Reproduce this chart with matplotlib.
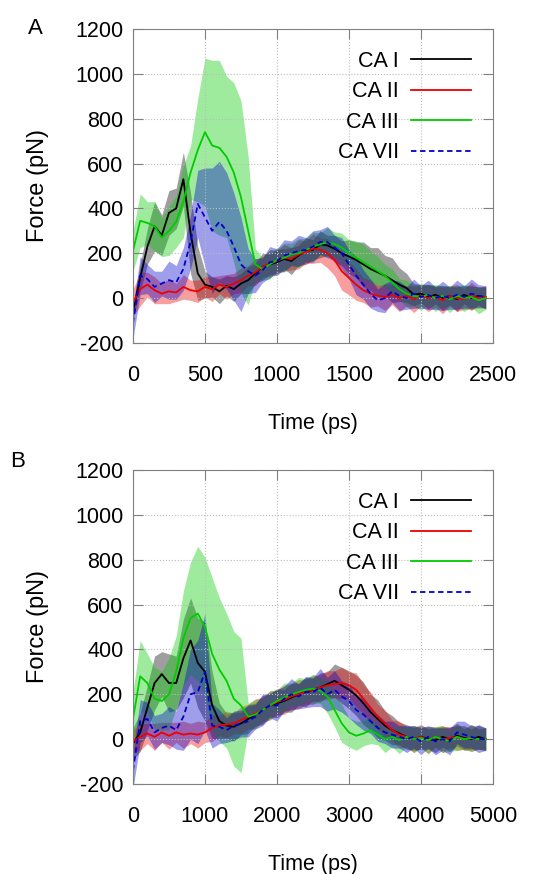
import numpy as np
import matplotlib
matplotlib.use("Agg")
import matplotlib.pyplot as plt

plt.rcParams["font.family"] = ["Liberation Sans", "DejaVu Sans"]
plt.rcParams["axes.unicode_minus"] = False

# ---------------- DATA ----------------
LABELS = ["CA I", "CA II", "CA III", "CA VII"]

# panel A: pulling run, 0-2450 ps
A_TIME = np.arange(0, 2500, 50)
A_CA1 = [-60, 90, 230, 320, 280, 380, 400, 530, 290, 110, 60, 50, 30, 55, 40, 65, 80, 110, 140, 150,
         160, 175, 165, 190, 210, 215, 240, 235, 220, 200, 185, 170, 150, 130, 115, 100, 80, 60, 45, 15,
         20, 5, 15, 0, 10, -5, 15, 0, 10, 0]
A_CA1_SD = [30, 60, 80, 110, 90, 100, 90, 120, 180, 120, 60, 45, 55, 45, 55, 45, 60, 45, 60, 45,
            60, 45, 60, 45, 60, 45, 60, 45, 60, 55, 75, 80, 100, 95, 110, 90, 100, 75, 65, 50,
            40, 55, 40, 55, 40, 55, 40, 55, 40, 50]
A_CA2 = [-20, 40, 60, 35, 20, 30, 25, 50, 35, 30, 50, 40, 60, 50, 65, 80, 100, 115, 140, 155,
         165, 180, 175, 195, 205, 220, 215, 200, 170, 120, 90, 60, 35, 20, 10, 5, 15, 0, 10, -5,
         10, 0, 5, -10, 10, 0, -5, 10, 0, 5]
A_CA2_SD = [60, 75, 55, 60, 45, 55, 40, 55, 45, 50, 45, 55, 40, 55, 45, 55, 45, 60, 45, 60,
            45, 60, 50, 65, 50, 65, 55, 65, 70, 85, 75, 70, 55, 60, 45, 60, 45, 60, 45, 60,
            45, 60, 45, 60, 45, 60, 45, 60, 45, 50]
A_CA3 = [210, 345, 335, 320, 270, 300, 340, 430, 560, 660, 740, 680, 670, 630, 560, 450, 300, 150, 130, 150,
         170, 180, 195, 200, 215, 230, 240, 250, 240, 225, 200, 180, 160, 140, 120, 100, 70, 40, 20, 10,
         5, 15, 0, 10, -5, 10, 0, 5, -10, 0]
A_CA3_SD = [90, 120, 95, 110, 85, 110, 115, 160, 120, 230, 330, 380, 390, 360, 400, 430, 330, 70, 50, 65,
            50, 65, 50, 65, 50, 65, 50, 65, 55, 65, 60, 75, 80, 70, 65, 50, 60, 45, 60, 45,
            60, 45, 60, 45, 60, 45, 60, 45, 60, 50]
A_CA7 = [-110, 100, 85, 50, 65, 80, 70, 130, 250, 420, 360, 300, 340, 300, 230, 150, 120, 100, 125, 160,
         165, 190, 200, 210, 215, 230, 250, 250, 225, 200, 150, 100, 60, 20, -10, 0, 30, 10, 0, 20,
         5, 15, 0, 10, 0, 15, 5, 20, 10, 5]
A_CA7_SD = [70, 85, 65, 70, 55, 85, 75, 95, 120, 150, 220, 280, 270, 260, 240, 210, 100, 75, 55, 70,
            55, 70, 55, 70, 55, 70, 55, 70, 55, 70, 65, 85, 65, 65, 50, 65, 50, 65, 50, 65,
            50, 65, 50, 65, 50, 65, 50, 65, 50, 50]

# panel B: slower pulling, 0-4900 ps
B_TIME = np.arange(0, 5000, 100)
B_CA1 = [-20, 30, 140, 250, 290, 250, 250, 360, 440, 340, 300, 150, 80, 60, 55, 70, 90, 110, 130, 150,
         160, 170, 185, 200, 210, 220, 230, 245, 260, 240, 220, 195, 160, 120, 90, 60, 40, 25, 10, 0,
         10, 0, -5, 10, 0, 15, 5, 0, 10, 0]
B_CA1_SD = [70, 85, 100, 120, 100, 130, 120, 175, 190, 200, 220, 150, 80, 55, 65, 50, 65, 50, 65, 50,
            65, 50, 65, 50, 65, 50, 65, 55, 75, 80, 85, 90, 95, 80, 85, 65, 65, 50, 55, 50,
            55, 45, 55, 45, 55, 45, 55, 45, 55, 50]
B_CA2 = [-10, 10, 25, 10, 30, 15, 30, 20, 25, 20, 30, 50, 60, 65, 70, 85, 100, 115, 130, 150,
         165, 175, 190, 200, 210, 220, 230, 240, 245, 250, 240, 220, 180, 140, 100, 70, 40, 20, 10, 0,
         10, -5, 10, 0, 5, 10, 0, 5, 0, 0]
B_CA2_SD = [50, 60, 45, 60, 45, 60, 45, 60, 45, 60, 45, 60, 45, 60, 45, 60, 55, 65, 55, 65,
            55, 65, 55, 65, 55, 65, 55, 65, 60, 70, 60, 75, 65, 70, 55, 60, 45, 60, 45, 60,
            45, 60, 45, 60, 45, 60, 45, 60, 45, 50]
B_CA3 = [90, 280, 250, 180, 170, 200, 300, 450, 540, 560, 500, 380, 310, 260, 180, 150, 100, 110, 130, 150,
         170, 185, 200, 210, 220, 225, 215, 190, 130, 70, 30, 15, 25, 40, 20, 0, 10, -5, 10, 0,
         5, -5, 10, 0, -10, 10, 0, 5, 0, 0]
B_CA3_SD = [120, 160, 130, 140, 130, 160, 160, 210, 250, 300, 310, 340, 320, 300, 300, 300, 60, 65, 50, 65,
            50, 65, 50, 65, 50, 65, 55, 75, 75, 85, 65, 65, 55, 60, 45, 60, 45, 60, 45, 60,
            45, 60, 45, 60, 45, 60, 45, 60, 45, 50]
B_CA7 = [-140, 80, 90, 30, 50, 60, 40, 100, 200, 210, 300, 60, 55, 40, 60, 70, 80, 100, 130, 150,
         150, 180, 200, 190, 210, 210, 230, 200, 220, 190, 170, 130, 110, 80, 50, 30, 20, 10, 0, 10,
         -10, 10, -10, 0, -10, 30, 20, 10, 0, 0]
B_CA7_SD = [80, 95, 75, 75, 65, 85, 85, 150, 200, 230, 260, 100, 75, 55, 65, 60, 70, 55, 70, 55,
            70, 55, 70, 55, 70, 65, 85, 75, 85, 70, 75, 65, 70, 55, 60, 50, 60, 50, 60, 50,
            60, 50, 60, 50, 60, 50, 60, 50, 60, 50]

# ---------------- STYLE ----------------
COLORS = ["#000000", "#ee0000", "#00cc00", "#0000cc"]
STYLES = ["-", "-", "-", (0, (3, 2))]
FS = 15.5

fig = plt.figure(figsize=(5.41, 8.74), dpi=100)


def panel(rect, t, means, sds, xticks, letter, letter_xy):
    ax = fig.add_axes(rect)
    for m, s, c, ls, lab in zip(means, sds, COLORS, STYLES, LABELS):
        m = np.array(m, float)
        s = np.array(s, float)
        ax.fill_between(t, m - s, m + s, color=c, alpha=0.38, lw=0)
        ax.plot(t, m, color=c, ls=ls, lw=1.3, label=lab)

    ax.set_xlim(xticks[0], xticks[-1])
    ax.set_ylim(-200, 1200)
    ax.set_xticks(xticks)
    ax.set_yticks(range(-200, 1201, 200))
    ax.grid(True, ls=":", color="#bbbbbb", lw=0.8)
    ax.tick_params(direction="in", length=7, top=True, right=True, color="#808080",
                   labelsize=FS)
    ax.tick_params(axis="x", pad=16)
    ax.tick_params(axis="y", pad=7)
    for sp in ax.spines.values():
        sp.set_color("#808080")

    ax.set_xlabel("Time (ps)", fontsize=FS, labelpad=19)
    ax.set_ylabel("Force (pN)", fontsize=17, labelpad=19)

    ax.legend(loc="upper right", bbox_to_anchor=(0.94, 0.93), frameon=False,
              markerfirst=False, fontsize=FS, handlelength=2.8, handletextpad=0.55,
              labelspacing=0.44, borderpad=0, borderaxespad=0)
    fig.text(letter_xy[0], letter_xy[1], letter, fontsize=16, ha="center", va="center")
    return ax


panel([0.2458, 0.6076, 0.6654, 0.3593], A_TIME,
      [A_CA1, A_CA2, A_CA3, A_CA7], [A_CA1_SD, A_CA2_SD, A_CA3_SD, A_CA7_SD],
      [0, 500, 1000, 1500, 2000, 2500], "A", (35 / 541, 1 - 29 / 874))
panel([0.2458, 0.1030, 0.6654, 0.3593], B_TIME,
      [B_CA1, B_CA2, B_CA3, B_CA7], [B_CA1_SD, B_CA2_SD, B_CA3_SD, B_CA7_SD],
      [0, 1000, 2000, 3000, 4000, 5000], "B", (18 / 541, 1 - 462 / 874))

fig.savefig("out.png", dpi=100)
